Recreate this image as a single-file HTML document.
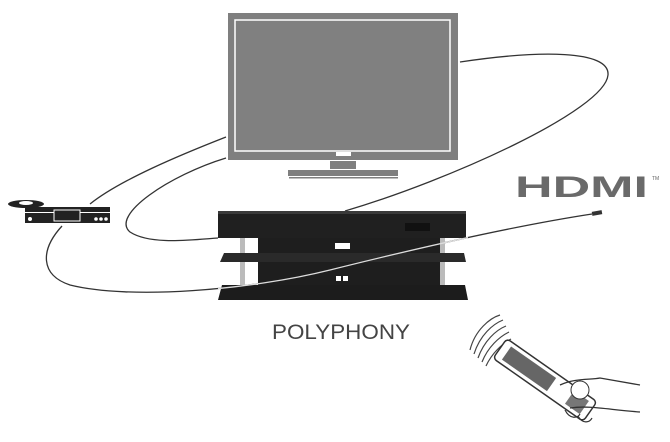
<!DOCTYPE html>
<html><head><style>body{margin:0;background:#fff}svg{display:block}</style></head><body>
<svg width="670" height="442" viewBox="0 0 670 442" xmlns="http://www.w3.org/2000/svg">
<defs><clipPath id="st"><rect x="218" y="211" width="250" height="90"/></clipPath></defs>
<g fill="none" stroke="#333" stroke-width="1.3">
<path d="M226,137 C180,155 120,180 90,204"/>
<path d="M226,158 C170,175 110,215 130,232 C150,245 190,240 218,238"/>
<path d="M460,62 C540,50 610,50 608,75 C605,110 450,180 345,211"/>
<path d="M62,226 C40,250 40,275 70,285 C130,300 250,290 330,270 C430,245 520,225 592,214"/>
</g>
<!-- TV -->
<rect x="228" y="13" width="230" height="147" fill="#7f7f7f"/>
<rect x="235" y="20" width="215" height="131" fill="#808080" stroke="#fff" stroke-width="1.5"/>
<rect x="336" y="152" width="15" height="4" fill="#fff"/>
<rect x="330" y="161" width="26" height="8" fill="#7f7f7f"/>
<rect x="288" y="170" width="110" height="6" fill="#7f7f7f"/>
<rect x="289" y="177" width="109" height="1.5" fill="#7f7f7f"/>
<!-- stand -->
<rect x="258" y="238" width="187" height="52" fill="#1e1e1e"/>
<rect x="240" y="236" width="5" height="52" fill="#bbb"/>
<rect x="440" y="236" width="5" height="52" fill="#bbb"/>
<polygon points="224,253 464,253 466,262 220,262" fill="#2a2a2a"/>
<polygon points="222,285 465,285 468,300 218,300" fill="#1c1c1c"/>
<rect x="218" y="211" width="248" height="27" fill="#202020"/>
<rect x="218" y="211" width="248" height="3" fill="#3a3a3a"/>
<rect x="405" y="223" width="25" height="8" fill="#111"/>
<rect x="335" y="243" width="15" height="6" fill="#fff"/>
<rect x="336" y="276" width="5" height="5" fill="#fff"/><rect x="343" y="276" width="5" height="5" fill="#fff"/>
<path clip-path="url(#st)" d="M62,226 C40,250 40,275 70,285 C130,300 250,290 330,270 C430,245 520,225 592,214" fill="none" stroke="#ddd" stroke-width="1.3"/>
<!-- HDMI connector -->
<rect x="592" y="211" width="10" height="4" fill="#333" transform="rotate(-10 597 213)"/>
<!-- player -->
<ellipse cx="26" cy="204" rx="18" ry="4" fill="#222"/>
<ellipse cx="26" cy="203" rx="7" ry="2" fill="#fff"/>
<rect x="25" y="207" width="85" height="16" fill="#222"/>
<rect x="25" y="212" width="85" height="1" fill="#fff"/>
<rect x="54" y="210" width="26" height="11" fill="#222" stroke="#fff"/>
<circle cx="30" cy="219" r="2" fill="#fff"/>
<circle cx="96" cy="219" r="1.8" fill="#fff"/><circle cx="101" cy="219" r="1.8" fill="#fff"/><circle cx="106" cy="219" r="1.8" fill="#fff"/>
<!-- remote -->
<g fill="none" stroke="#444" stroke-width="1.2">
<path d="M470,350 C475,330 490,318 500,315"/>
<path d="M474,354 C480,335 493,324 503,320"/>
<path d="M478,358 C484,341 496,330 506,326"/>
<path d="M482,362 C488,347 499,337 509,332"/>
<path d="M486,366 C492,353 502,344 511,339"/>
</g>
<g transform="rotate(35 545 380)">
<rect x="490" y="368" width="110" height="24" rx="4" fill="#fff" stroke="#333" stroke-width="1.5"/>
<rect x="498" y="372" width="55" height="16" fill="#666"/>
<rect x="575" y="372" width="18" height="16" fill="#777"/>
</g>
<path d="M560,385 C575,378 590,380 600,378 L640,385 M570,408 C590,405 610,410 640,412" fill="none" stroke="#333" stroke-width="1.3"/>
<path d="M565,410 C570,420 578,418 580,414 M578,416 C583,425 590,422 592,418" fill="none" stroke="#333" stroke-width="1.2"/>
<circle cx="580" cy="390" r="9" fill="#fff" stroke="#333"/>
<!-- texts -->
<text x="515" y="197" font-family="Liberation Sans, sans-serif" font-weight="bold" font-size="30" fill="#6a6a6a" textLength="133" lengthAdjust="spacingAndGlyphs">HDMI</text>
<text x="652" y="180" font-family="Liberation Sans, sans-serif" font-size="5" fill="#666">TM</text>
<text x="272" y="339" font-family="Liberation Sans, sans-serif" font-size="21" fill="#444" textLength="138" lengthAdjust="spacingAndGlyphs">POLYPHONY</text>
</svg>
</body></html>
